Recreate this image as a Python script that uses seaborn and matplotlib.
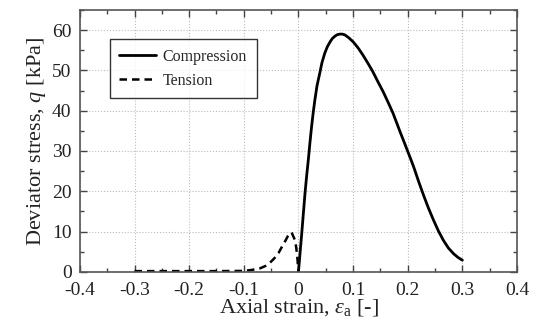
import matplotlib
matplotlib.use("Agg")
import matplotlib.pyplot as plt
import seaborn as sns
import pandas as pd
from matplotlib.ticker import MultipleLocator

comp_x = [0.0, 0.003, 0.006, 0.009, 0.012, 0.015, 0.018, 0.021, 0.024, 0.027, 0.030, 0.034, 0.039, 0.043,
          0.048, 0.053, 0.058, 0.062, 0.067, 0.071, 0.076, 0.080, 0.085, 0.092, 0.1, 0.109, 0.118, 0.127,
          0.136, 0.145, 0.155, 0.164, 0.173, 0.180, 0.187, 0.194, 0.2, 0.206, 0.211, 0.220, 0.229, 0.238,
          0.247, 0.256, 0.265, 0.274, 0.284, 0.292, 0.3]
comp_y = [0.0, 4.8, 9.5, 14.5, 19.5, 23.8, 27.7, 32.0, 36.0, 39.5, 42.6, 46.2, 49.3, 51.9,
          54.2, 55.9, 57.1, 57.9, 58.5, 58.85, 59.0, 59.0, 58.8, 58.1, 57.1, 55.6, 53.8, 51.8,
          49.7, 47.3, 44.7, 42.1, 39.4, 36.9, 34.4, 32.0, 29.9, 27.8, 26.0, 22.4, 19.0, 15.8,
          12.9, 10.2, 7.9, 6.0, 4.5, 3.6, 2.9]
ten_x = [-0.3, -0.25, -0.2, -0.15, -0.1, -0.085, -0.07, -0.06, -0.052, -0.044, -0.036, -0.03, -0.024,
         -0.019, -0.016, -0.014, -0.012, -0.01, -0.008, -0.006, -0.004, -0.002, 0.0]
ten_y = [0.2, 0.2, 0.2, 0.2, 0.25, 0.5, 0.9, 1.5, 2.3, 3.4, 4.8, 6.3, 7.7, 9.0, 9.6, 9.8, 9.6, 9.0, 8.4, 7.7, 6.0, 3.5, 0.0]

sns.set_theme(style="ticks")
plt.rcParams['font.family'] = ['Liberation Serif', 'DejaVu Serif']
plt.rcParams['mathtext.fontset'] = 'custom'
plt.rcParams['mathtext.rm'] = 'Liberation Serif'
plt.rcParams['mathtext.it'] = 'Liberation Serif:italic'

fig = plt.figure(figsize=(5.36, 3.30), dpi=100)
ax = fig.add_axes([0.149, 0.176, 0.8156, 0.794])

dfc = pd.DataFrame({"x": comp_x, "y": comp_y})
dft = pd.DataFrame({"x": ten_x, "y": ten_y})
sns.lineplot(data=dfc, x="x", y="y", ax=ax, color="black", lw=2.0, label="Compression", sort=False)
sns.lineplot(data=dft, x="x", y="y", ax=ax, color="black", lw=1.8, label="Tension", sort=False,
             linestyle=(0, (3, 2)))

ax.set_xlim(-0.4, 0.4)
ax.set_ylim(0, 65)
ax.xaxis.set_minor_locator(MultipleLocator(0.05))
ax.yaxis.set_minor_locator(MultipleLocator(5))
ax.set_xticks([-0.4, -0.3, -0.2, -0.1, 0, 0.1, 0.2, 0.3, 0.4])
ax.set_xticklabels(["-0.4", "-0.3", "-0.2", "-0.1", "0", "0.1", "0.2", "0.3", "0.4"])
ax.set_yticks([0, 10, 20, 30, 40, 50, 60])
ax.set_yticklabels(["0", "10", "20", "30", "40", "50", "60"])
ax.grid(True, which="major", color="#bbbbbb", linestyle=":", linewidth=0.8)
ax.tick_params(which="both", direction="in", top=True, right=True, color="#444444", labelsize=14,
               labelcolor="#222222")
ax.tick_params(axis="x", which="major", pad=7)
ax.tick_params(axis="y", which="major", pad=6)
ax.tick_params(which="major", length=5, width=1)
ax.tick_params(which="minor", length=3, width=1)
for s in ax.spines.values():
    s.set_color("#555555")
    s.set_linewidth(1.2)

ax.set_xlabel(r"Axial strain, $\varepsilon_{\rm a}$ [-]", fontsize=16, labelpad=-1, color="#222222")
ax.set_ylabel(r"Deviator stress, $q$ [kPa]", fontsize=16, labelpad=3, color="#222222")

leg = ax.legend(loc="upper left", bbox_to_anchor=(0.0686, 0.889), frameon=True, fancybox=False,
                edgecolor="black", fontsize=11.5, handlelength=2.3, borderpad=0.6, labelspacing=0.5,
                handletextpad=0.4, borderaxespad=0)
leg.get_frame().set_linewidth(1.0)

fig.savefig("out.png", dpi=100)
